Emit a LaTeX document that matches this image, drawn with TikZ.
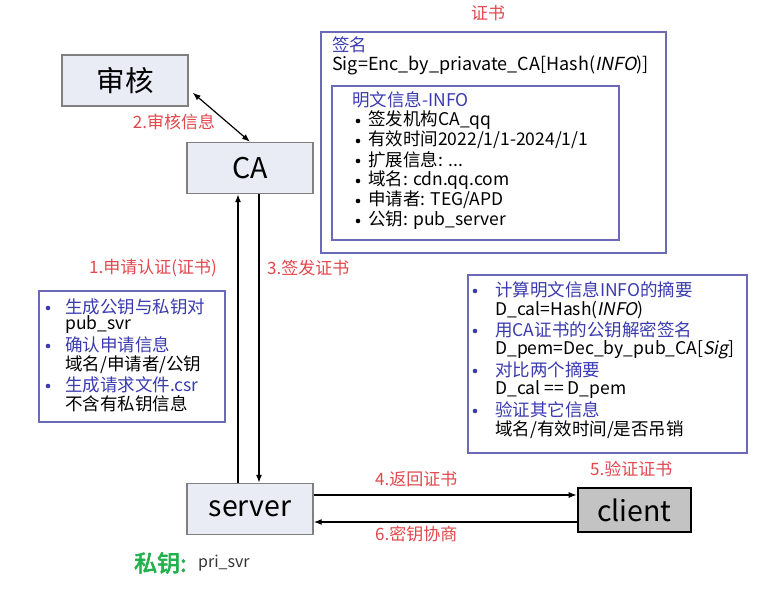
\documentclass[tikz,border=0pt]{standalone}
\usepackage{fontspec}
\setmainfont{Noto Sans CJK SC}[AutoFakeBold=3, AutoFakeSlant=0.2]
\usetikzlibrary{arrows.meta,calc}
\definecolor{boxfill}{HTML}{E9EBF5}
\definecolor{boxline}{HTML}{808080}
\definecolor{clientfill}{HTML}{C3C3C3}
\definecolor{labelred}{HTML}{E2474C}
\definecolor{infoblue}{HTML}{3A3AB0}
\definecolor{frameblue}{HTML}{6A6AB8}
\definecolor{keygreen}{HTML}{22B14C}
\definecolor{darktext}{HTML}{333333}
\newcommand{\fsz}[1]{\fontsize{#1}{#1}\selectfont}
\newcommand{\ellip}{...}
\begin{document}
\begin{tikzpicture}[x=1pt,y=-1pt,
  actor/.style={draw=boxline, line width=1.4pt, fill=boxfill, inner sep=0pt,
    minimum width=126pt, minimum height=51pt, font=\fsz{28.5}},
  clientbox/.style={draw=black, line width=2.6pt, fill=clientfill, inner sep=0pt,
    minimum width=113pt, minimum height=44pt, font=\fsz{28.5}},
  frame/.style={draw=frameblue, line width=1.3pt},
  step label/.style={text=labelred, font=\fsz{17}, inner sep=0pt},
  line/.style={font=\fsz{17.5}, inner sep=0pt, anchor=west},
  head/.style={line, text=infoblue},
  dot/.style={circle, fill, inner sep=0pt, minimum size=4.6pt},
  flow/.style={line width=1.2pt, -{Latex[length=8pt,width=6pt]}},
]
\useasboundingbox (0,0) rectangle (760,610);

% parties
\node[actor] (audit) at (125,80.5) {审核};
\node[actor] (ca) at (250,168) {CA};
\node[actor] (server) at (250,509) {server};
\node[clientbox] (client) at (634.5,510) {client};

% connectors
\draw[line width=1.2pt, {Latex[length=8pt,width=6pt]}-{Latex[length=8pt,width=6pt]}]
  ($(audit.south east)+(4,-14)$) -- (ca.north);
\draw[flow] ([xshift=-12pt]server.north) -- ([xshift=-12pt]ca.south);
\draw[flow] ([xshift=9pt]ca.south) -- ([xshift=9pt]server.north);
\draw[flow] ([yshift=14pt]server.east) -- ([yshift=14pt]server.east -| client.west);
\draw[flow] ([yshift=-13pt]server.east -| client.west) -- ([yshift=-13pt]server.east);

% step labels
\node[step label] (s2) at (174,122) {2.审核信息};
\node[step label, anchor=east] (s1) at (217,268) {1.申请认证(证书)};
\node[step label, anchor=west] (s3) at (267,268) {3.签发证书};
\node[step label, anchor=west] (s4) at (375,479) {4.返回证书};
\node[step label, anchor=west] (s5) at (590,469) {5.验证证书};
\node[step label, anchor=west] (s6) at (375,534) {6.密钥协商};

% private key of the server
\node[inner sep=0pt, anchor=west, text=keygreen, font=\fsz{23}\bfseries] (pk) at (134,563) {私钥:};
\node[inner sep=0pt, anchor=west, text=darktext, font=\fsz{16}] (pkv) at (198,563) {pri\_svr};

% certificate
\node[step label] (certtitle) at (488,13) {证书};
\draw[frame] (321,32) rectangle (666,253);
\node[head] (signame) at (332,45) {签名};
\node[line, font=\fsz{18}] (sig) at (332,65) {Sig=Enc\_by\_priavate\_CA[Hash(\textit{INFO})]};
\draw[frame] (332,86) rectangle (619,240);
\node[head] (infohead) at (352,100) {明文信息-INFO};
\foreach \t [count=\i] in {{签发机构CA\_qq}, {有效时间2022/1/1-2024/1/1}, {扩展信息: \ellip}, {域名: cdn.qq.com}, {申请者: TEG/APD}, {公钥: pub\_server}}{
  \node[dot] (cb\i) at (358,{101+20*\i}) {};
  \node[line] (ct\i) at (368,{100+20*\i}) {\t};
}

% request steps on the server side
\draw[frame] (39,291) rectangle (225,422);
\foreach \y/\t/\c [count=\i] in {307/{生成公钥与私钥对}/infoblue, 325/{pub\_svr}/black, 345/{确认申请信息}/infoblue,
    365/{域名/申请者/公钥}/black, 385/{生成请求文件.csr}/infoblue, 404/{不含有私钥信息}/black}{
  \node[line, text=\c] (rq\i) at (65,\y) {\t};
}
\foreach \y [count=\i] in {307,345,385}
  \node[dot, fill=infoblue] (rb\i) at (48,\y+1) {};

% verification steps on the client side
\draw[frame] (468,275) rectangle (747,453);
\foreach \y/\t/\c [count=\i] in {290/{计算明文信息INFO的摘要}/infoblue, 310/{D\_cal=Hash(\textit{INFO})}/black,
    330/{用CA证书的公钥解密签名}/infoblue, 350/{D\_pem=Dec\_by\_pub\_CA[\textit{Sig}]}/black,
    370/{对比两个摘要}/infoblue, 390/{D\_cal == D\_pem}/black,
    410/{验证其它信息}/infoblue, 430/{域名/有效时间/是否吊销}/black}{
  \node[line, text=\c] (vf\i) at (495,\y) {\t};
}
\foreach \y [count=\i] in {290,330,370,410}
  \node[dot, fill=infoblue] (vb\i) at (475,\y+1) {};
\end{tikzpicture}
\end{document}
